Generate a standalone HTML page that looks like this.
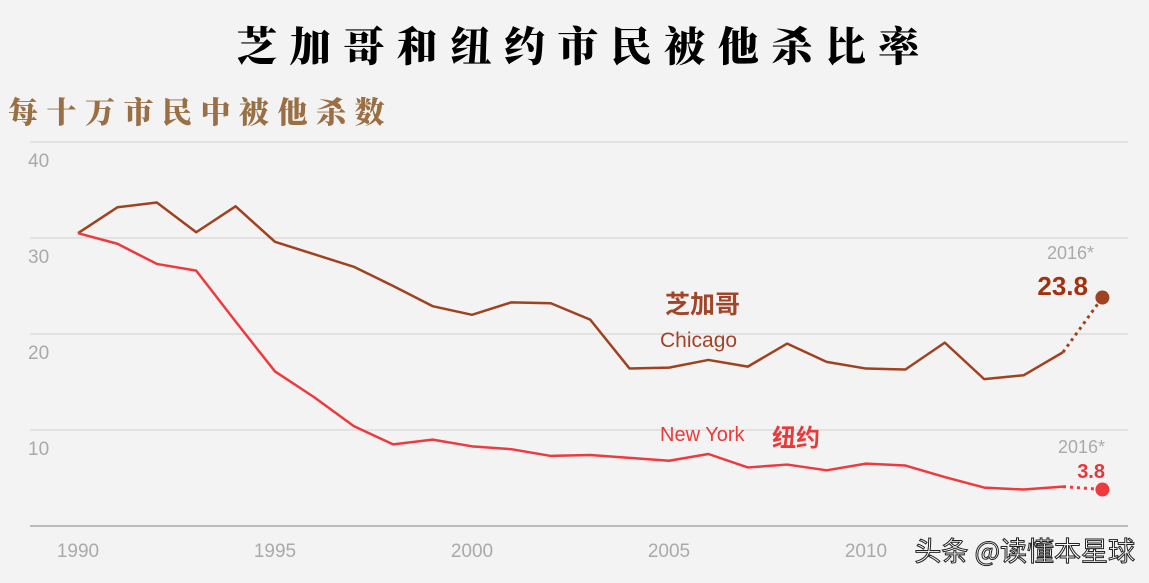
<!DOCTYPE html>
<html><head><meta charset="utf-8"><style>
html,body{margin:0;padding:0;background:#f3f3f3;}
svg{display:block;}
</style></head><body>
<svg id="chart" width="1149" height="583" viewBox="0 0 1149 583" xmlns="http://www.w3.org/2000/svg">
<rect width="1149" height="583" fill="#f3f3f3"/>
<text x="584" y="61" text-anchor="middle" font-family="'Noto Serif CJK SC', serif" font-weight="900" font-size="41" letter-spacing="12.5" fill="#000">芝加哥和纽约市民被他杀比率</text>
<text x="8" y="123" font-family="'Noto Serif CJK SC', serif" font-weight="900" font-size="30" letter-spacing="8.5" fill="#9a6f44">每十万市民中被他杀数</text>
<g id="grid"></g><g id="series"></g>
<text x="660" y="347" font-family="'Liberation Sans', sans-serif" font-size="21" fill="#a0452a">Chicago</text>
<text x="665" y="313" font-family="'Liberation Sans','Noto Sans CJK SC', sans-serif" font-weight="bold" font-size="25" fill="#a0452a">芝加哥</text>
<text x="660" y="441" font-family="'Liberation Sans', sans-serif" font-size="20" fill="#e83a3a">New York</text>
<text x="772" y="446" font-family="'Liberation Sans','Noto Sans CJK SC', sans-serif" font-weight="bold" font-size="24" fill="#e83a3a">纽约</text>
<text x="1094" y="259" text-anchor="end" font-family="'Liberation Sans', sans-serif" font-size="18" fill="#aaa">2016*</text>
<text x="1088" y="295" text-anchor="end" font-family="'Liberation Sans', sans-serif" font-weight="bold" font-size="26" fill="#a0330f">23.8</text>
<text x="1105" y="453" text-anchor="end" font-family="'Liberation Sans', sans-serif" font-size="18" fill="#aaa">2016*</text>
<text x="1105" y="478" text-anchor="end" font-family="'Liberation Sans', sans-serif" font-weight="bold" font-size="20" fill="#e8353a">3.8</text>
<text x="1135" y="561" text-anchor="end" font-family="'Noto Sans CJK SC', sans-serif" font-size="27" fill="#fff" stroke="#222" stroke-width="1">头条 @读懂本星球</text>
</svg>
<script>
const years=[1990,1991,1992,1993,1994,1995,1996,1997,1998,1999,2000,2001,2002,2003,2004,2005,2006,2007,2008,2009,2010,2011,2012,2013,2014,2015,2016];
const chicago=[30.5,33.2,33.7,30.6,33.3,29.6,28.3,27.0,25.0,22.9,22.0,23.3,23.2,21.5,16.4,16.5,17.3,16.6,19.0,17.1,16.4,16.3,19.1,15.3,15.7,18.1,23.8];
const newYork=[30.5,29.4,27.3,26.6,21.3,16.1,13.4,10.4,8.5,9.0,8.3,8.0,7.3,7.4,7.1,6.8,7.5,6.1,6.4,5.8,6.5,6.3,5.1,4.0,3.8,4.1,3.8];
const yTicks=[0,10,20,30,40];
const xTicks=[1990,1995,2000,2005,2010];
const NS='http://www.w3.org/2000/svg';
const x=y=>78+(y-1990)*39.4;
const yy=v=>526-v*9.6;
const grid=document.getElementById('grid'),ser=document.getElementById('series');
function mk(tag,attrs,parent){const e=document.createElementNS(NS,tag);for(const k in attrs)e.setAttribute(k,attrs[k]);parent.appendChild(e);return e;}
yTicks.forEach(t=>{
  const l=mk('line',{x1:30,x2:1128,y1:yy(t),y2:yy(t),stroke:t===0?'#bbb':'#dcdcdc','stroke-width':t===0?2:1.5},grid);
  
  
  if(t>0){const tx=mk('text',{x:28,y:yy(t)+25,'font-family':'Liberation Sans, sans-serif','font-size':19,fill:'#aaa'},grid);tx.textContent=t;
  
  }
});
xTicks.forEach(t=>{
  const tx=mk('text',{x:x(t),y:557,'text-anchor':'middle','font-family':'Liberation Sans, sans-serif','font-size':19,fill:'#aaa'},grid);tx.textContent=t;
  
  
});
function draw(vals,color,name){
  const n=vals.length;
  const solid=vals.slice(0,n-1).map((v,i)=>x(years[i])+','+yy(v)).join(' ');
  const p=mk('polyline',{points:solid,fill:'none',stroke:color,'stroke-width':2.5,'stroke-linejoin':'round'},ser);
  
  
  const d=mk('line',{x1:x(years[n-2]),y1:yy(vals[n-2]),x2:x(years[n-1]),y2:yy(vals[n-1]),stroke:color,'stroke-width':3,'stroke-dasharray':'3 4'},ser);
  
  
  const c=mk('circle',{cx:x(years[n-1]),cy:yy(vals[n-1]),r:7,fill:color},ser);
  
  
}
draw(chicago,'#a0411f','chicago');
draw(newYork,'#ee3a3f','new-york');
</script>
</body></html>
